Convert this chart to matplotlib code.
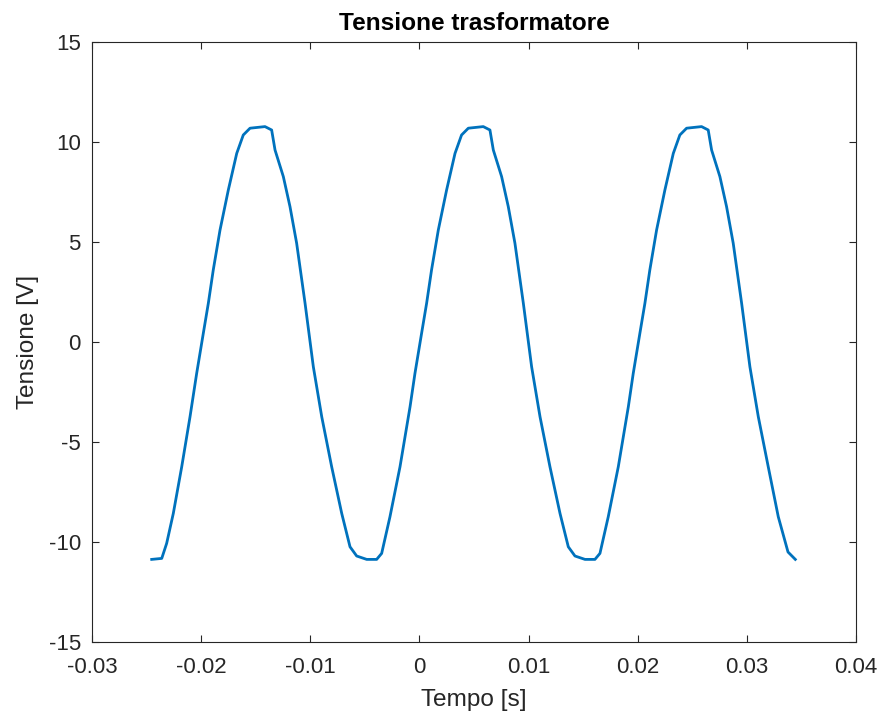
import matplotlib
matplotlib.use("Agg")
import matplotlib.pyplot as plt

# Time samples [s]
tempo = [-0.02453, -0.02361, -0.02316, -0.02255, -0.02178, -0.02102, -0.02041, -0.01980,
         -0.01934, -0.01889, -0.01827, -0.01751, -0.01674, -0.01614, -0.01552, -0.01415,
         -0.01354, -0.01323, -0.01247, -0.01186, -0.01125, -0.01048, -0.00972, -0.00895,
         -0.00804, -0.00712, -0.00636, -0.00575, -0.00483, -0.00392, -0.00346, -0.00270,
         -0.00178, -0.00086,
         -0.00041, 0.00020, 0.00066, 0.00111, 0.00173, 0.00249, 0.00326, 0.00386,
         0.00448, 0.00585, 0.00646, 0.00677, 0.00753, 0.00814, 0.00875, 0.00952,
         0.01028, 0.01105, 0.01196, 0.01288, 0.01364, 0.01425, 0.01517, 0.01608,
         0.01654, 0.01730, 0.01822, 0.01914,
         0.01959, 0.02020, 0.02066, 0.02111, 0.02173, 0.02249, 0.02326, 0.02386,
         0.02448, 0.02585, 0.02646, 0.02677, 0.02753, 0.02814, 0.02875, 0.02952,
         0.03028, 0.03105, 0.03196, 0.03288, 0.03377, 0.03444]

# Voltage samples [V]
tensione = [-10.87, -10.82, -10.07, -8.57, -6.24, -3.74, -1.57, 0.44,
            1.94, 3.60, 5.60, 7.60, 9.43, 10.35, 10.69, 10.77,
            10.60, 9.60, 8.27, 6.77, 4.94, 1.94, -1.24, -3.74,
            -6.24, -8.57, -10.24, -10.70, -10.87, -10.87, -10.57, -8.74,
            -6.24, -3.24,
            -1.57, 0.44, 1.94, 3.60, 5.60, 7.60, 9.43, 10.35,
            10.69, 10.77, 10.60, 9.60, 8.27, 6.77, 4.94, 1.94,
            -1.24, -3.74, -6.24, -8.57, -10.24, -10.70, -10.87, -10.87,
            -10.57, -8.74, -6.24, -3.24,
            -1.57, 0.44, 1.94, 3.60, 5.60, 7.60, 9.43, 10.35,
            10.69, 10.77, 10.60, 9.60, 8.27, 6.77, 4.94, 1.94,
            -1.24, -3.74, -6.24, -8.74, -10.50, -10.87]

xticks = [-0.03, -0.02, -0.01, 0, 0.01, 0.02, 0.03, 0.04]
xticklabels = ["-0.03", "-0.02", "-0.01", "0", "0.01", "0.02", "0.03", "0.04"]
yticks = [-15, -10, -5, 0, 5, 10, 15]
yticklabels = ["-15", "-10", "-5", "0", "5", "10", "15"]

plt.rcParams['font.family'] = ['Liberation Sans', 'DejaVu Sans']

fig = plt.figure(figsize=(8.79, 7.15), dpi=100)
ax = fig.add_axes([92/879, 1-642/715, (856-92)/879, (642-42)/715])

ax.plot(tempo, tensione, color='#0072BD', linewidth=2.0, solid_joinstyle='round')

ax.set_xlim(-0.03, 0.04)
ax.set_ylim(-15, 15)
ax.set_xticks(xticks)
ax.set_xticklabels(xticklabels)
ax.set_yticks(yticks)
ax.set_yticklabels(yticklabels)

axcol = '#262626'
for s in ax.spines.values():
    s.set_color(axcol)
    s.set_linewidth(0.8)
ax.tick_params(direction='in', length=5, width=0.8, colors=axcol,
               top=True, right=True, labelsize=16)
ax.tick_params(axis='x', pad=11)
ax.tick_params(axis='y', pad=8)

ax.set_title("Tensione trasformatore", fontsize=17.6, fontweight='bold', pad=9)
ax.set_xlabel("Tempo [s]", fontsize=17.6, color=axcol, labelpad=8)
ax.set_ylabel("Tensione [V]", fontsize=17.6, color=axcol, labelpad=7)

fig.savefig("out.png", dpi=100)
